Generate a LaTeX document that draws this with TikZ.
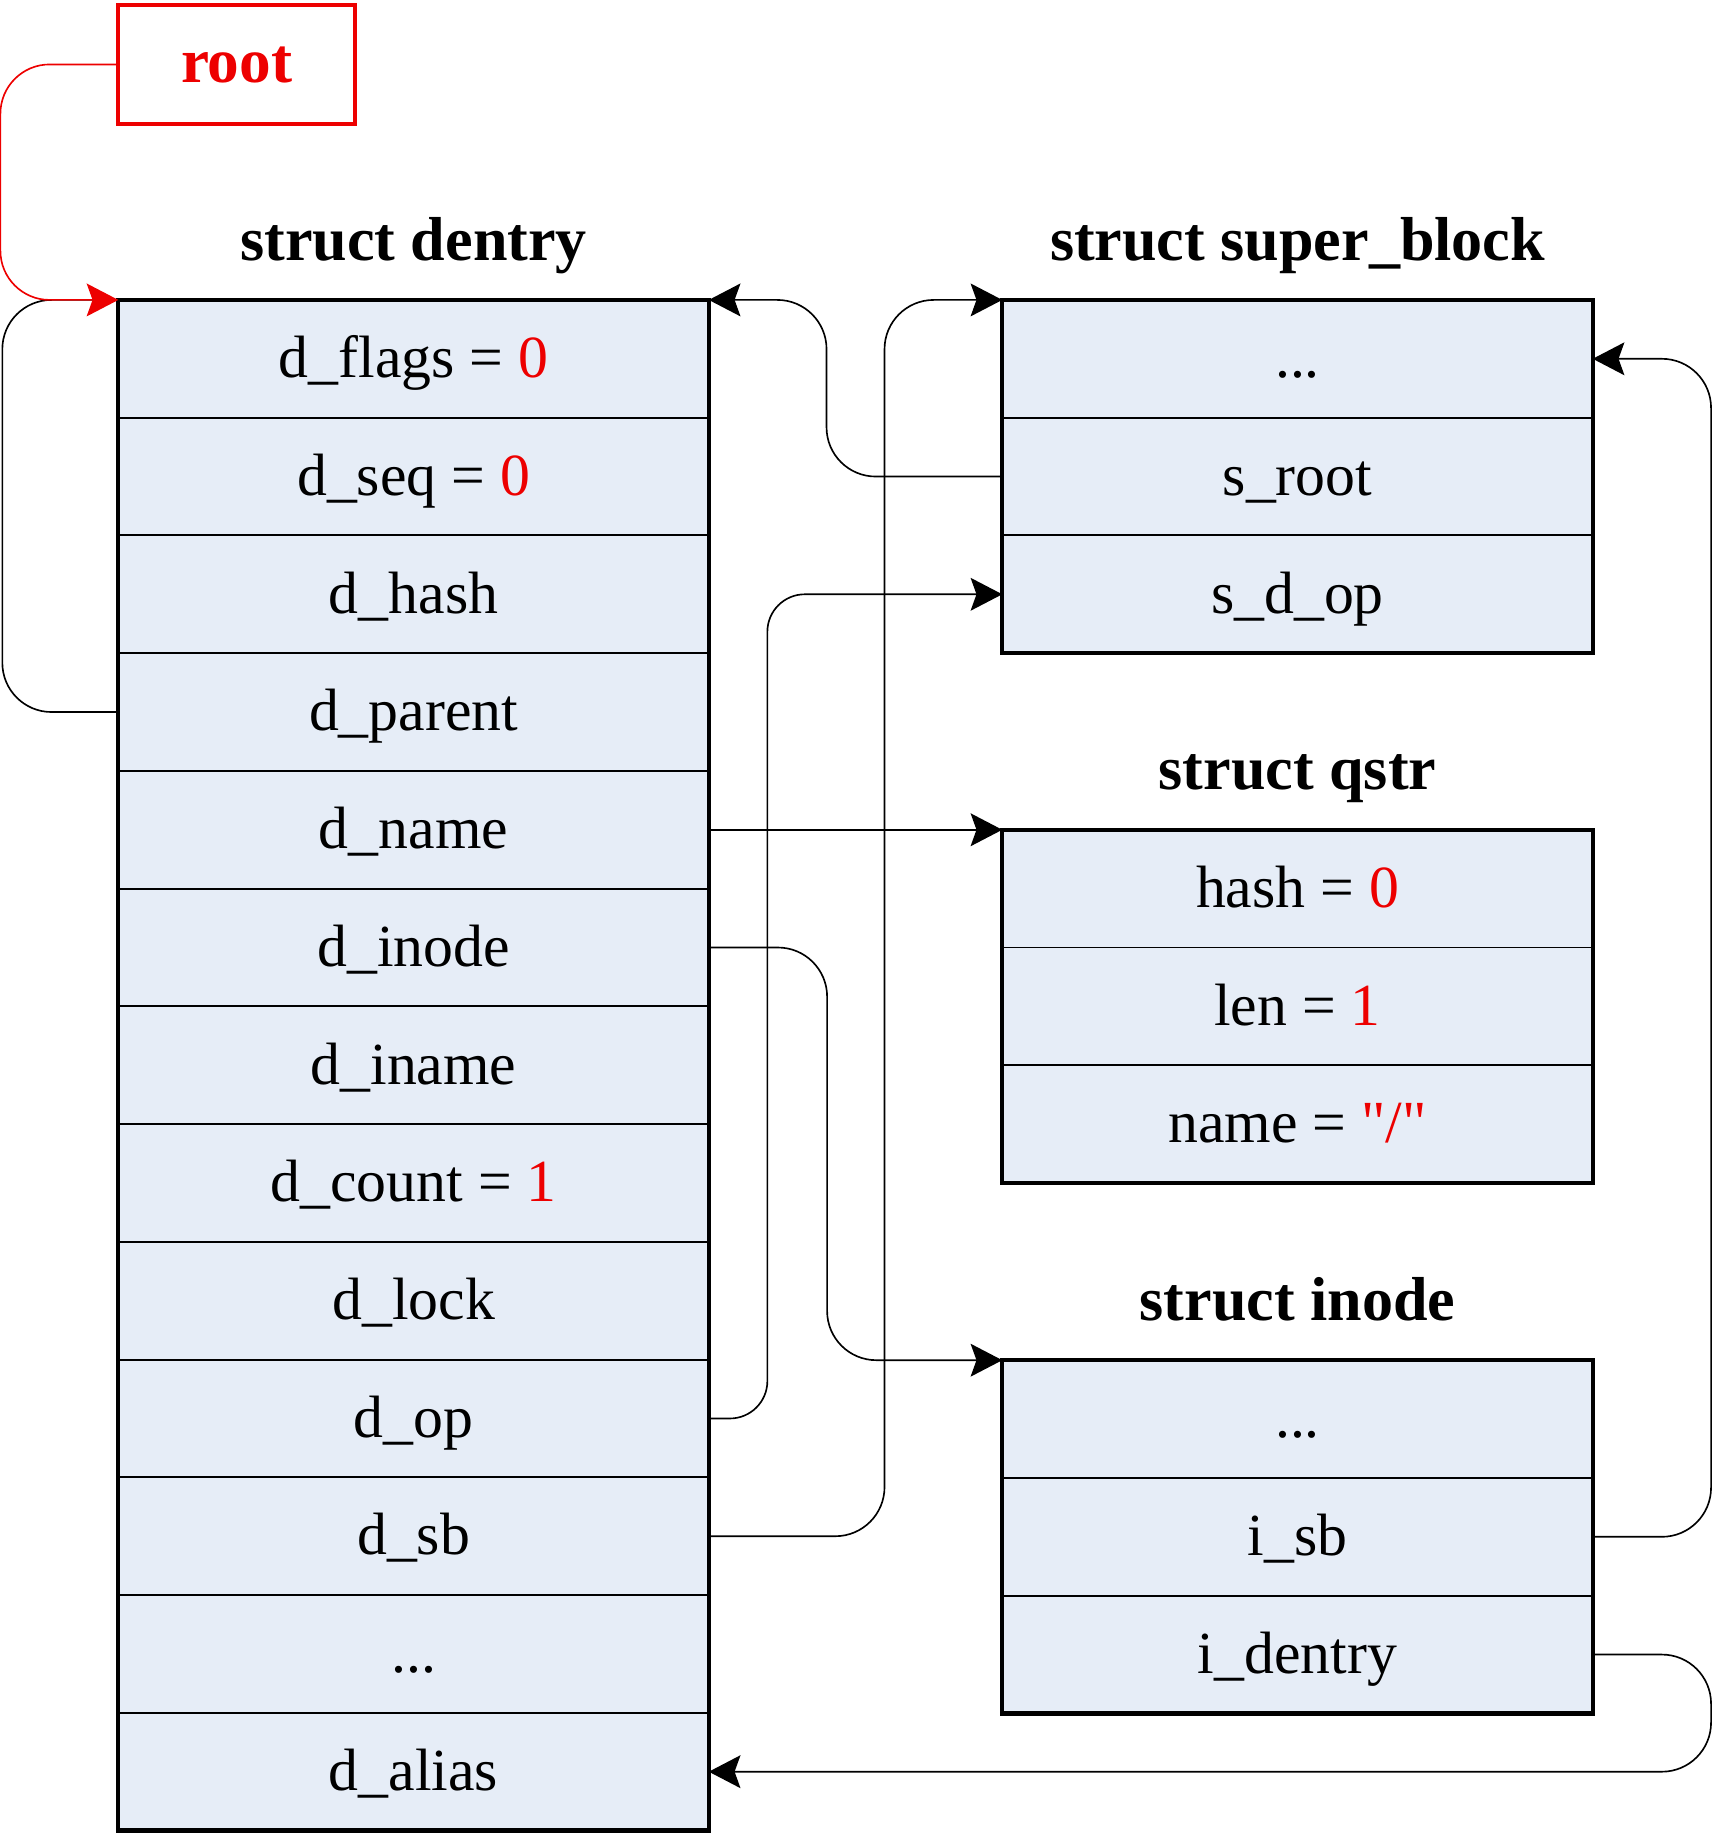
\documentclass[tikz,border=0pt]{standalone}
\usepackage{fontspec}
\setmainfont{Liberation Serif}
\usetikzlibrary{arrows.meta,fit}
\definecolor{rowfill}{RGB}{230,237,247}
\definecolor{myred}{RGB}{237,0,0}
\begin{document}
\begin{tikzpicture}[x=1pt,y=-1pt,
  rowbox/.style={draw, line width=1.6pt, fill=rowfill, minimum width=504pt, minimum height=100.5pt,
    inner sep=0pt, outer sep=0pt, text height=35pt, text depth=3pt, font=\fontsize{51}{60}\selectfont},
  structbox/.style={draw, line width=3.7pt, inner sep=0pt, outer sep=0pt},
  title/.style={anchor=base, inner sep=0pt, font=\fontsize{53}{62}\selectfont\bfseries},
  conn/.style={draw, line width=1.4pt, rounded corners=42pt},
  tip/.style={-{Stealth[length=27pt,width=28pt,inset=5pt]}},
  v/.style={text=myred}]
\useasboundingbox (0,0) rectangle (1463,1569.7);

% root
\node[draw=myred, line width=3.3pt, minimum width=202pt, minimum height=101pt, inner sep=0pt,
  text height=38pt, text depth=8pt, text=myred, font=\fontsize{54}{62}\selectfont\bfseries]
  (root) at (202,55) {root};

% struct dentry
\node[title] (tdentry) at (353,222) {struct dentry};
\node[rowbox] (dflags)  at (353,306.25)  {d\_flags = \textcolor{myred}{0}};
\node[rowbox] (dseq)    at (353,406.75)  {d\_seq = \textcolor{myred}{0}};
\node[rowbox] (dhash)   at (353,507.25)  {d\_hash};
\node[rowbox] (dparent) at (353,607.75)  {d\_parent};
\node[rowbox] (dname)   at (353,708.25)  {d\_name};
\node[rowbox] (dinode)  at (353,808.75)  {d\_inode};
\node[rowbox] (diname)  at (353,909.25)  {d\_iname};
\node[rowbox] (dcount)  at (353,1009.75) {d\_count = \textcolor{myred}{1}};
\node[rowbox] (dlock)   at (353,1110.25) {d\_lock};
\node[rowbox] (dop)     at (353,1210.75) {d\_op};
\node[rowbox] (dsb)     at (353,1311.25) {d\_sb};
\node[rowbox] (ddots)   at (353,1411.75) {...};
\node[rowbox] (dalias)  at (353,1512.25) {d\_alias};
\node[structbox, fit=(dflags)(dalias)] (dentry) {};

% struct super_block
\node[title] (tsb) at (1107.5,222) {struct super\_block};
\node[rowbox] (sbdots) at (1107.5,306.25) {...};
\node[rowbox] (sroot)  at (1107.5,406.75) {s\_root};
\node[rowbox] (sdop)   at (1107.5,507.25) {s\_d\_op};
\node[structbox, fit=(sbdots)(sdop)] (sb) {};

% struct qstr
\node[title] (tqstr) at (1107.5,674) {struct qstr};
\node[rowbox] (qhash) at (1107.5,758.5) {hash = \textcolor{myred}{0}};
\node[rowbox] (qlen)  at (1107.5,859)   {len = \textcolor{myred}{1}};
\node[rowbox] (qname) at (1107.5,959.5) {name = \textcolor{myred}{\textquotedbl/\textquotedbl}};
\node[structbox, fit=(qhash)(qname)] (qstr) {};

% struct inode
\node[title] (tinode) at (1107.5,1127) {struct inode};
\node[rowbox] (idots)   at (1107.5,1211.25) {...};
\node[rowbox] (isb)     at (1107.5,1311.75) {i\_sb};
\node[rowbox] (identry) at (1107.5,1412.25) {i\_dentry};
\node[structbox, fit=(idots)(identry)] (inode) {};

% connectors
\draw[conn] (dparent.west) -- ++(-99,0) |- (dentry.north west);
\draw[conn, tip, color=myred] (root.west) -- ++(-99,0) |- (dentry.north west);
\draw[conn, tip] (sroot.west) -- ++(-150,0) |- (dentry.north east);
\draw[conn, tip] (dname.east) -- (qstr.north west);
\draw[conn, tip] (dinode.east) -- ++(101,0) |- (inode.north west);
\draw[conn, tip, rounded corners=32pt] (dop.east) -- ++(50,0) |- (sdop.west);
\draw[conn, tip] (dsb.east) -- ++(150,0) |- (sb.north west);
\draw[conn, tip] (isb.east) -- ++(101,0) |- (sbdots.east);
\draw[conn, tip] (identry.east) -- ++(101,0) |- (dalias.east);
\end{tikzpicture}
\end{document}
